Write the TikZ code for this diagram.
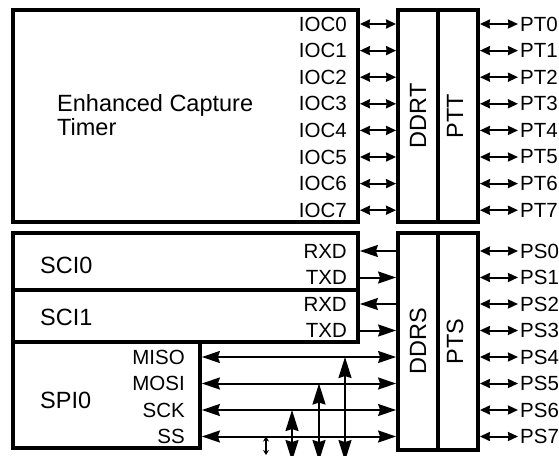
\documentclass[tikz,border=0pt]{standalone}
\usepackage{fontspec}
\setmainfont{Liberation Sans}
\usetikzlibrary{arrows.meta}

\begin{document}
\begin{tikzpicture}[
x=1pt, y=-1pt,
blk/.style={draw, line width=3.8pt, inner sep=0pt, anchor=north west},
blklbl/.style={font=\fontsize{23.5}{24}\selectfont, inner sep=0pt, align=left},
pinlbl/.style={font=\fontsize{20.5}{20}\selectfont, inner sep=0pt},
iolink/.style={{Stealth[length=10pt,width=9pt,inset=0.5pt]}-{Stealth[length=10pt,width=9pt,inset=0.5pt]}, line width=2pt},
sigarrow/.style={-{Stealth[length=18pt,width=12pt,inset=2pt]}, line width=2pt},
busarrow/.style={{Stealth[length=18pt,width=12pt,inset=2pt]}-{Stealth[length=18pt,width=12pt,inset=2pt]}, line width=2pt},
vbus/.style={{Stealth[length=21pt,width=13pt,inset=2pt]}-{Stealth[length=21pt,width=13pt,inset=2pt]}, line width=2pt},
tinyarrow/.style={{Stealth[length=5pt,width=6pt]}-{Stealth[length=5pt,width=6pt]}, line width=1.5pt}
]
\useasboundingbox (0,0) rectangle (559,455);

% timer block and port T
\node[blk, minimum width=345pt, minimum height=212pt] (ect) at (11.1,8.1) {};
\node[blk, minimum width=40pt, minimum height=212pt] (ddrt) at (396.1,8.1) {};
\node[blk, minimum width=40pt, minimum height=212pt] (ptt) at (436.1,8.1) {};
\node[blklbl, anchor=west] (ectlbl) at (57,115) {Enhanced Capture\\Timer};
\node[blklbl, rotate=90] (ddrtlbl) at (ddrt.center) {DDRT};
\node[blklbl, rotate=90] (pttlbl) at ([xshift=-3pt]ptt.center) {PTT};

% serial blocks and port S
\node[blk, minimum width=345pt, minimum height=57pt] (sci0) at (11.1,231.1) {};
\node[blk, minimum width=345pt, minimum height=52pt] (sci1) at (11.1,288.1) {};
\node[blk, minimum width=187pt, minimum height=106pt] (spi) at (11.1,340.1) {};
\node[blk, minimum width=40pt, minimum height=217pt] (ddrs) at (396.1,231.1) {};
\node[blk, minimum width=40pt, minimum height=217pt] (pts) at (436.1,231.1) {};
\node[blklbl, anchor=west] (sci0lbl) at (40,265) {SCI0};
\node[blklbl, anchor=west] (sci1lbl) at (40,317) {SCI1};
\node[blklbl, anchor=west] (spilbl) at (40,400) {SPI0};
\node[blklbl, rotate=90] (ddrslbl) at (ddrs.center) {DDRS};
\node[blklbl, rotate=90] (ptslbl) at ([xshift=-3pt]pts.center) {PTS};

\foreach \i in {0,...,7}{
  \node[pinlbl, anchor=east] (ioc\i) at (347,24+26.6*\i) {IOC\i};
  \node[pinlbl, anchor=west] (pt\i) at (520,24+26.6*\i) {PT\i};
  \node[pinlbl, anchor=west] (ps\i) at (520,251+26.5*\i) {PS\i};
  \draw[iolink] (ect.east |- ioc\i) -- (ddrt.west |- ioc\i);
  \draw[iolink, shorten >=2pt] (ptt.east |- pt\i) -- (pt\i.west);
  \draw[iolink, shorten >=2pt] (pts.east |- ps\i) -- (ps\i.west);
}

\node[pinlbl, anchor=east] (rxd0) at (347,251) {RXD};
\node[pinlbl, anchor=east] (txd0) at (347,277.5) {TXD};
\node[pinlbl, anchor=east] (rxd1) at (347,304) {RXD};
\node[pinlbl, anchor=east] (txd1) at (347,330.5) {TXD};
\draw[sigarrow] (ddrs.west |- rxd0) -- (sci0.east |- rxd0);
\draw[sigarrow] (sci0.east |- txd0) -- (ddrs.west |- txd0);
\draw[sigarrow] (ddrs.west |- rxd1) -- (sci1.east |- rxd1);
\draw[sigarrow] (sci1.east |- txd1) -- (ddrs.west |- txd1);

\foreach \nm/\txt/\yy in {miso/MISO/357, mosi/MOSI/383.5, sck/SCK/410, ss/SS/436.5}{
  \node[pinlbl, anchor=east] (\nm) at (185,\yy) {\txt};
  \draw[busarrow] (spi.east |- \nm) -- (ddrs.west |- \nm);
}

% taps going off the bottom
\coordinate (d1) at (345,461);
\coordinate (d2) at (319,461);
\coordinate (d3) at (292,461);
\coordinate (d4) at (266,455);
\draw[vbus] (d1) -- (d1 |- miso);
\draw[vbus] (d2) -- (d2 |- mosi);
\draw[vbus] (d3) -- (d3 |- sck);
\draw[tinyarrow] (d4) -- (d4 |- ss);
\end{tikzpicture}
\end{document}
